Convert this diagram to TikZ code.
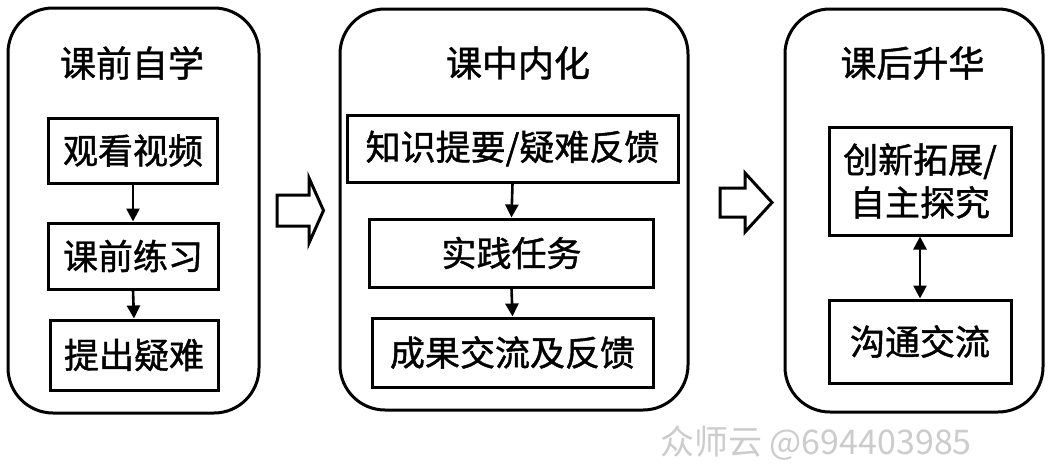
\documentclass[tikz,border=0pt]{standalone}
\usepackage{fontspec}
\setmainfont{Noto Sans CJK SC}
\newfontfamily\boldcjk[FakeBold=1.2]{Noto Sans CJK SC}
\usetikzlibrary{arrows.meta}
\begin{document}
\begin{tikzpicture}[x=1pt,y=-1pt,
  panel/.style={draw, line width=3pt, rounded corners=45pt, inner sep=0pt},
  stepbox/.style={draw, line width=3pt, inner sep=0pt, align=center,
    font=\boldcjk\fontsize{35}{42}\selectfont},
  ptitle/.style={font=\boldcjk\fontsize{36}{40}\selectfont, inner sep=0pt},
  flow/.style={line width=2.6pt, -{Triangle[length=13pt,width=13pt]}},
  biflow/.style={line width=2.6pt, {Triangle[length=13pt,width=13pt]}-{Triangle[length=13pt,width=13pt]}},
  bigarrow/.style={draw, line width=3pt, line join=miter, fill=white},
  wm/.style={font=\fontsize{34}{36}\selectfont, text=black!20, inner sep=0pt}]
\useasboundingbox (0,0) rectangle (1060,466);
\fill[white] (0,0) rectangle (1060,466);

% panels
\node[panel, minimum width=251pt, minimum height=405pt] (PL) at (133.5,210.5) {};
\node[panel, minimum width=348pt, minimum height=401pt] (PM) at (514,209.5) {};
\node[panel, minimum width=258pt, minimum height=403pt] (PR) at (914,210.5) {};

% titles
\node[ptitle] (TL) at (132,63) {课前自学};
\node[ptitle] (TM) at (518,63) {课中内化};
\node[ptitle] (TR) at (912.5,63) {课后升华};

% left boxes
\node[stepbox, minimum width=169pt, minimum height=65pt] (L1) at (133,150.5) {观看视频};
\node[stepbox, minimum width=170pt, minimum height=66pt] (L2) at (133,256) {课前练习};
\node[stepbox, minimum width=168pt, minimum height=70pt] (L3) at (134,355) {提出疑难};

% middle boxes
\node[stepbox, minimum width=331pt, minimum height=67pt] (M1) at (512.5,148.5) {知识提要/疑难反馈};
\node[stepbox, minimum width=284pt, minimum height=68pt] (M2) at (511.5,253) {实践任务};
\node[stepbox, minimum width=281pt, minimum height=69pt] (M3) at (512.5,352.5) {成果交流及反馈};

% right boxes
\node[stepbox, minimum width=182pt, minimum height=108pt, font=\boldcjk\fontsize{35}{43}\selectfont] (R1) at (920,181) {创新拓展/\\自主探究};
\node[stepbox, minimum width=182pt, minimum height=83pt] (R2) at (920,341.5) {沟通交流};

% connectors
\draw[flow] (L1.south) -- (L2.north);
\draw[flow] (L2.south) -- (L3.north);
\draw[flow] (M1.south) -- (M2.north);
\draw[flow] (M2.south) -- (M3.north);
\draw[biflow] (R1.south) -- (R2.north);

% block arrows between panels
\draw[bigarrow] (277,195) -- (309,195) -- (309,178) -- (323.5,210.5) -- (309,243) -- (309,226) -- (277,226) -- cycle;
\draw[bigarrow] (720,188) -- (745,188) -- (745,173) -- (772,202.5) -- (745,232) -- (745,217) -- (720,217) -- cycle;

% watermark
\node[wm, anchor=west] (WM) at (660,443) {众师云 @694403985};
\end{tikzpicture}
\end{document}
